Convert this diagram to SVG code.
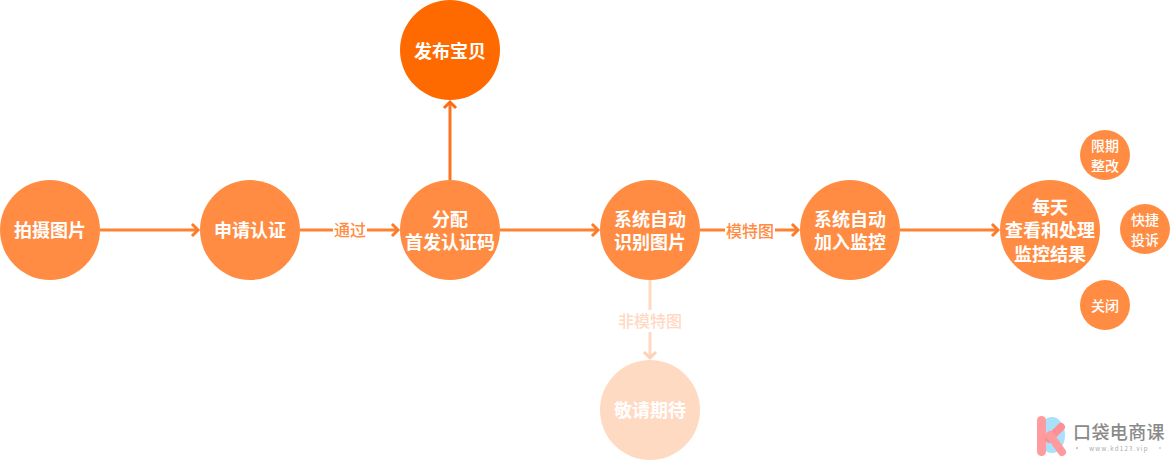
<svg xmlns="http://www.w3.org/2000/svg" width="1170" height="460" viewBox="0 0 1170 460">
<style>
text{font-family:"Noto Sans CJK SC","Liberation Sans",sans-serif;text-anchor:middle}
.c{fill:#ff8c42}
.t{fill:#fff;font-size:18px;font-weight:700}
.s{fill:#fff;font-size:14px;font-weight:500}
.l{font-size:16px;font-weight:500;fill:#ff8c42}
.a{fill:none;stroke:#ff8132;stroke-width:3}
.h{fill:none;stroke:#ff7a26;stroke-width:3}
.bg{fill:#fff}
</style>
<g id="connectors">
<path class="a" d="M100 230H197M300 230H397M500 230H597M700 230H797M900 230H997"/>
<path class="h" d="M192 224l6 6l-6 6M392 224l6 6l-6 6M592 224l6 6l-6 6M792 224l6 6l-6 6M992 224l6 6l-6 6"/>
<path d="M450 180V102" fill="none" stroke="#ff7320" stroke-width="3"/>
<path d="M444 108l6-6l6 6" fill="none" stroke="#ff6a10" stroke-width="3"/>
<path d="M650 280V358" fill="none" stroke="#ffd9c2" stroke-width="3"/>
<path d="M644 352l6 6l6-6" fill="none" stroke="#ffd0b3" stroke-width="3"/>
<g id="label-tongguo"><rect class="bg" x="333" y="220" width="34" height="20"/><text class="l" x="350" y="236">通过</text></g>
<g id="label-mote"><rect class="bg" x="725" y="220" width="50" height="20"/><text class="l" x="750" y="237">模特图</text></g>
<g id="label-feimote"><rect class="bg" x="617" y="310" width="66" height="22"/><text class="l" x="650" y="327" style="fill:#ffd9c2">非模特图</text></g>
</g>
<g id="n1"><circle class="c" cx="50" cy="230" r="50"/><text class="t" x="50" y="237">拍摄图片</text></g>
<g id="n2"><circle class="c" cx="250" cy="230" r="50"/><text class="t" x="250" y="237">申请认证</text></g>
<g id="n3"><circle class="c" cx="450" cy="230" r="50"/><text class="t" x="450" y="226">分配</text><text class="t" x="450" y="249">首发认证码</text></g>
<g id="n4"><circle cx="450" cy="50" r="50" fill="#ff6a00"/><text class="t" x="450" y="58">发布宝贝</text></g>
<g id="n5"><circle class="c" cx="650" cy="230" r="50"/><text class="t" x="650" y="226">系统自动</text><text class="t" x="650" y="249">识别图片</text></g>
<g id="n6"><circle class="c" cx="850" cy="230" r="50"/><text class="t" x="850" y="226">系统自动</text><text class="t" x="850" y="249">加入监控</text></g>
<g id="n7"><circle cx="650" cy="410" r="50" fill="#ffdac3"/><text class="t" x="650" y="417">敬请期待</text></g>
<g id="n8"><circle class="c" cx="1050" cy="230" r="50"/><text class="t" x="1050" y="214">每天</text><text class="t" x="1050" y="237">查看和处理</text><text class="t" x="1050" y="261">监控结果</text></g>
<g id="n9"><circle class="c" cx="1105" cy="155" r="25"/><text class="s" x="1105" y="151">限期</text><text class="s" x="1105" y="171">整改</text></g>
<g id="n10"><circle class="c" cx="1145" cy="229" r="25"/><text class="s" x="1145" y="225">快捷</text><text class="s" x="1145" y="245">投诉</text></g>
<g id="n11"><circle class="c" cx="1105" cy="305" r="25"/><text class="s" x="1105" y="311">关闭</text></g>
<g id="logo">
<ellipse cx="1052" cy="435" rx="13" ry="18" fill="#a9e1fb"/>
<rect x="1037" y="416" width="9" height="40" rx="4.500" fill="#ff9a9e"/>
<path d="M1049 439L1061 427" stroke="#ff8f93" stroke-width="8" stroke-linecap="round" fill="none"/>
<path d="M1050 435L1062 452" stroke="#ff9a9e" stroke-width="8" stroke-linecap="round" fill="none"/>
<text x="1119" y="439" style="font-size:18px;font-weight:500;fill:#8a8a8a;letter-spacing:.4px">口袋电商课</text>
<text x="1119" y="451" style="font-size:6px;fill:#aaa;letter-spacing:1.300px">www.kd123.vip</text>
<circle cx="1077" cy="448" r="1" fill="#ff9a9e"/><circle cx="1160" cy="448" r="1" fill="#a9d8f5"/>
</g>
</svg>
